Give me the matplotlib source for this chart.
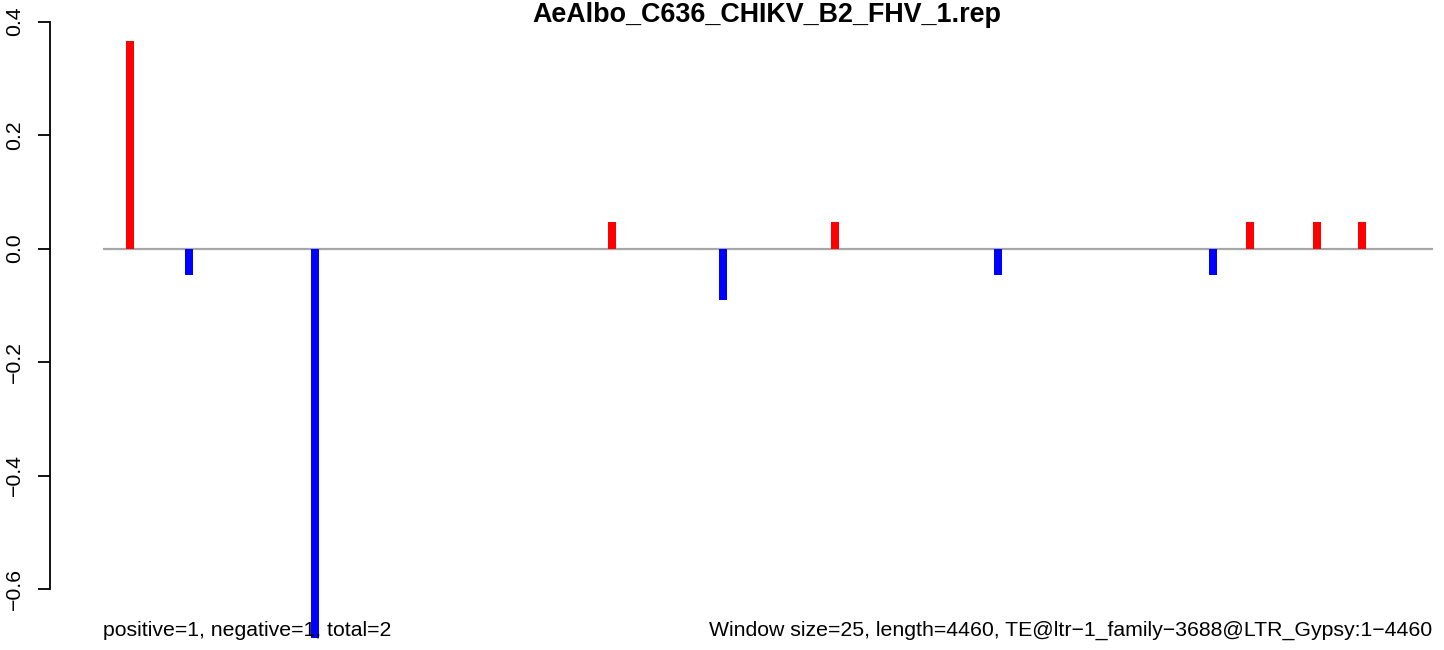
import numpy as np
import matplotlib.pyplot as plt

title = 'AeAlbo_C636_CHIKV_B2_FHV_1.rep'
# window positions (bp) and normalised signal per window
pos = [90, 288, 711, 1707, 2079, 2455, 3001, 3722, 3846, 4071, 4222]
vals = [0.366, -0.046, -0.687, 0.046, -0.091, 0.046, -0.046, -0.046, 0.046, 0.046, 0.046]
seq_len = 4460
win = 25
left_note = 'positive=1, negative=1, total=2'
right_note = 'Window size=25, length=4460, TE@ltr\u22121_family\u22123688@LTR_Gypsy:1\u22124460'

plt.rcParams['font.family'] = ['Liberation Sans', 'DejaVu Sans']

fig = plt.figure(figsize=(14.44, 6.5), dpi=100)
W, H = 1444, 650
ax = fig.add_axes([103 / W, 0, 1330 / W, 1])

cols = ['red' if v > 0 else 'blue' for v in vals]
ax.bar(pos, vals, width=27, color=cols, linewidth=0, zorder=3)
ax.axhline(0, color='#a6a6a6', lw=1.6, zorder=2)

# y range chosen so that 0 sits at row 248.5 and 0.2 = 113.5 px
ymax = 248.5 / 567.5
ymin = -(650 - 248.5) / 567.5
ax.set_ylim(ymin, ymax)
ax.set_xlim(0, seq_len)

for s in ['top', 'right', 'bottom']:
    ax.spines[s].set_visible(False)
ax.spines['left'].set_position(('outward', 53 * 0.72))
ax.spines['left'].set_bounds(-0.6, 0.4)
ax.spines['left'].set_linewidth(1.3)
ax.set_xticks([])
ticks = [-0.6, -0.4, -0.2, 0.0, 0.2, 0.4]
ax.set_yticks(ticks)
ax.set_yticklabels(['\u22120.6', '\u22120.4', '\u22120.2', '0.0', '0.2', '0.4'],
                   rotation=90, va='center', fontsize=15.3)
ax.tick_params(axis='y', length=8.6, width=1.3, pad=10)
ax.patch.set_alpha(0)

fig.text(767 / W, 1 - 2 / H, title, ha='center', va='top',
         fontsize=19.4, fontweight='bold')
fig.text(103 / W, 1 - 636 / H, left_note, ha='left', va='baseline', fontsize=15.3)
fig.text(1432 / W, 1 - 636 / H, right_note, ha='right', va='baseline', fontsize=15.3)

fig.savefig('out.png', dpi=100)
